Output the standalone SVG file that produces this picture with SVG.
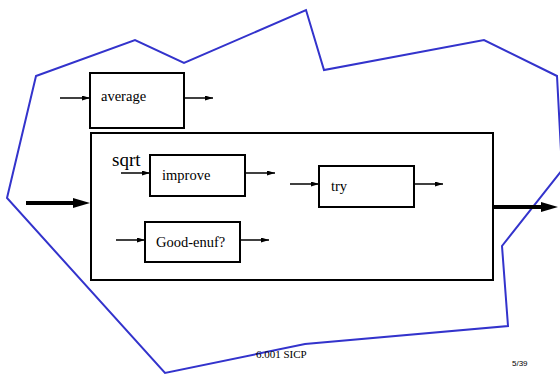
<svg xmlns="http://www.w3.org/2000/svg" width="560" height="375" viewBox="0 0 560 375">
<style>
.box{fill:none;stroke:#000;stroke-width:2}
.lbl{font-family:"Liberation Serif",serif;font-size:14.5px;fill:#000}
.thin{stroke:#000;stroke-width:1.5;fill:none}
.thick{stroke:#000;stroke-width:4;fill:none}
.blob{fill:none;stroke:#3333cc;stroke-width:2;stroke-linejoin:miter}
</style>
<defs>
<marker id="ah" markerUnits="userSpaceOnUse" markerWidth="9" markerHeight="6" refX="8" refY="2.5" orient="auto">
<path d="M0,0 L8,2.5 L0,5 z" fill="#000"/>
</marker>
<marker id="ahBig" markerUnits="userSpaceOnUse" markerWidth="18" markerHeight="11" refX="9" refY="5" orient="auto">
<path d="M0,0 L17,5 L0,10 z" fill="#000"/>
</marker>
</defs>
<rect width="560" height="375" fill="#fff"/>
<polygon id="boundary" class="blob" points="36,76 135,40 184,63 306,10 324,70 484,40 557,76 562,170 502,246 508,326 305,344 165,373 7,198"/>
<g id="average">
<rect class="box" x="90" y="73" width="94" height="55"/>
<text class="lbl" x="101" y="101">average</text>
</g>
<g id="sqrt">
<rect class="box" x="91" y="133" width="402" height="147"/>
<text x="112" y="166" style="font-family:'Liberation Serif',serif;font-size:19px">sqrt</text>
</g>
<g id="improve">
<rect class="box" x="150" y="155" width="95" height="41"/>
<text class="lbl" x="162" y="180">improve</text>
</g>
<g id="try">
<rect class="box" x="319" y="166" width="95" height="41"/>
<text class="lbl" x="331" y="191">try</text>
</g>
<g id="good-enuf">
<rect class="box" x="145" y="222" width="95" height="40"/>
<text class="lbl" x="156" y="247">Good-enuf?</text>
</g>
<g id="connectors">
<line class="thin" x1="60" y1="98" x2="90" y2="98" marker-end="url(#ah)"/>
<line class="thin" x1="184" y1="98" x2="213" y2="98" marker-end="url(#ah)"/>
<line class="thin" x1="121" y1="173" x2="150" y2="173" marker-end="url(#ah)"/>
<line class="thin" x1="245" y1="173" x2="275" y2="173" marker-end="url(#ah)"/>
<line class="thin" x1="290" y1="184" x2="319" y2="184" marker-end="url(#ah)"/>
<line class="thin" x1="414" y1="184" x2="443" y2="184" marker-end="url(#ah)"/>
<line class="thin" x1="116" y1="240" x2="145" y2="240" marker-end="url(#ah)"/>
<line class="thin" x1="240" y1="240" x2="269" y2="240" marker-end="url(#ah)"/>
<line class="thick" x1="26" y1="203" x2="82" y2="203" marker-end="url(#ahBig)"/>
<line class="thick" x1="493" y1="207" x2="550" y2="207" marker-end="url(#ahBig)"/>
</g>
<text x="256" y="358" style="font-family:'Liberation Serif',serif;font-size:11px">6.001 SICP</text>
<text x="512" y="366" style="font-family:'Liberation Sans',sans-serif;font-size:8px">5/39</text>
</svg>
